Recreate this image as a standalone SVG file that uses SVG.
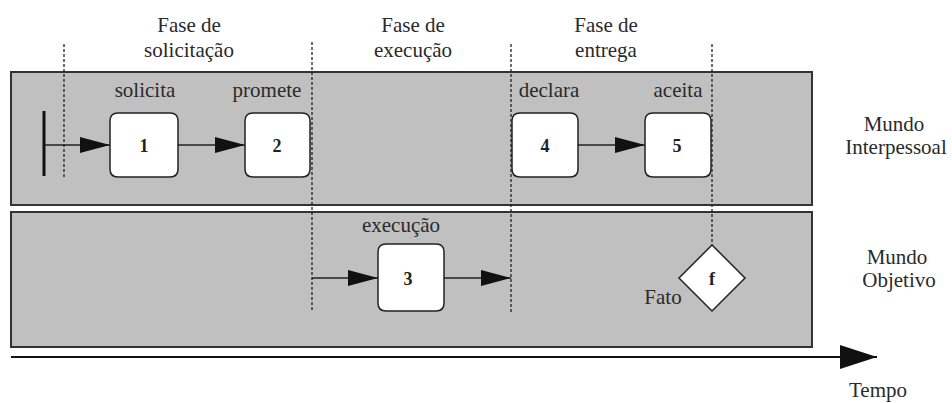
<svg xmlns="http://www.w3.org/2000/svg" width="952" height="403" viewBox="0 0 952 403">
<style>
.lbl{font-family:'Liberation Serif','Times New Roman',serif;font-size:21px;fill:#2a2a2a;text-anchor:middle}
.num{font-family:'Liberation Serif','Times New Roman',serif;font-size:18px;font-weight:bold;fill:#222;text-anchor:middle}
.band{fill:#c0c0c0;stroke:#333;stroke-width:2}
.node{fill:#fff;stroke:#222;stroke-width:1.5}
.dash{stroke:#222;stroke-width:1.3;stroke-dasharray:3,2;fill:none}
.edge{stroke:#222;stroke-width:1.5;fill:none;marker-end:url(#ah)}
</style>
<defs>
<marker id="ah" viewBox="0 0 30 16" refX="30" refY="8" markerWidth="30" markerHeight="16" markerUnits="userSpaceOnUse" orient="auto">
<path d="M0,0 L30,8 L0,16 Z" fill="#111"/>
</marker>
<marker id="big" viewBox="0 0 37 24" refX="37" refY="12" markerWidth="37" markerHeight="24" markerUnits="userSpaceOnUse" orient="auto">
<path d="M0,0 L37,12 L0,24 Z" fill="#111"/>
</marker>
</defs>
<rect width="952" height="403" fill="#fff"/>
<g id="bands">
<rect class="band" x="11" y="72" width="801" height="133"/>
<rect class="band" x="11" y="212" width="801" height="135"/>
</g>
<g id="phases">
<text class="lbl" x="189" y="32">Fase de</text>
<text class="lbl" x="189" y="57">solicitação</text>
<text class="lbl" x="413" y="32">Fase de</text>
<text class="lbl" x="413" y="57">execução</text>
<text class="lbl" x="606" y="32">Fase de</text>
<text class="lbl" x="606" y="57">entrega</text>
<text class="lbl" x="894" y="131">Mundo</text>
<text class="lbl" x="896" y="154">Interpessoal</text>
<text class="lbl" x="897" y="264">Mundo</text>
<text class="lbl" x="899" y="287">Objetivo</text>
<text class="lbl" x="878" y="397">Tempo</text>
</g>
<g id="connectors">
<line class="dash" x1="64" y1="44" x2="64" y2="178"/>
<line class="dash" x1="312" y1="42" x2="312" y2="312"/>
<line class="dash" x1="511" y1="44" x2="511" y2="312"/>
<line class="dash" x1="712" y1="44" x2="712" y2="245"/>
<line x1="44" y1="111" x2="44" y2="176" stroke="#111" stroke-width="3"/>
<line class="edge" x1="44" y1="145" x2="110" y2="145"/>
<line class="edge" x1="178" y1="145" x2="245" y2="145"/>
<line class="edge" x1="578" y1="145" x2="645" y2="145"/>
<line class="edge" x1="312" y1="278" x2="378" y2="278"/>
<line class="edge" x1="444" y1="278" x2="511" y2="278"/>
<line x1="11" y1="357" x2="877" y2="357" stroke="#111" stroke-width="2" marker-end="url(#big)"/>
</g>
<g id="n1">
<path class="node" d="M118,113 H170 Q178,113 178,121 V169 Q178,177 170,177 H118 Q110,177 110,169 V121 Q110,113 118,113 Z"/>
<text class="num" x="144" y="152">1</text>
<text class="lbl" x="145" y="97">solicita</text>
</g>
<g id="n2">
<path class="node" d="M253,113 H302 Q310,113 310,121 V169 Q310,177 302,177 H253 Q245,177 245,169 V121 Q245,113 253,113 Z"/>
<text class="num" x="277" y="152">2</text>
<text class="lbl" x="267" y="97">promete</text>
</g>
<g id="n3">
<path class="node" d="M386,244 H436 Q444,244 444,252 V303 Q444,311 436,311 H386 Q378,311 378,303 V252 Q378,244 386,244 Z"/>
<text class="num" x="408" y="285">3</text>
<text class="lbl" x="401" y="232">execução</text>
</g>
<g id="n4">
<path class="node" d="M520,113 H570 Q578,113 578,121 V169 Q578,177 570,177 H520 Q512,177 512,169 V121 Q512,113 520,113 Z"/>
<text class="num" x="545" y="152">4</text>
<text class="lbl" x="549" y="97">declara</text>
</g>
<g id="n5">
<path class="node" d="M653,113 H703 Q711,113 711,121 V169 Q711,177 703,177 H653 Q645,177 645,169 V121 Q645,113 653,113 Z"/>
<text class="num" x="677" y="152">5</text>
<text class="lbl" x="678" y="97">aceita</text>
</g>
<g id="nf">
<path class="node" d="M712,245 L745,278 L712,311 L679,278 Z"/>
<text class="num" x="712" y="285">f</text>
<text class="lbl" x="663" y="304">Fato</text>
</g>
</svg>
